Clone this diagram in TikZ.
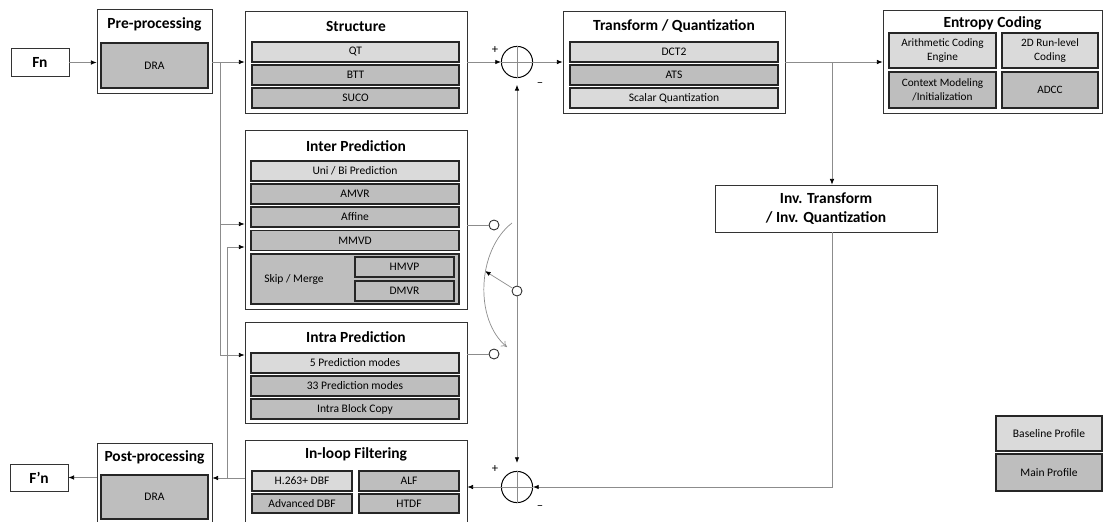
\documentclass[tikz,border=0pt]{standalone}
\usepackage{fontspec}
\setmainfont{Carlito}
\usetikzlibrary{arrows.meta}
\definecolor{litefill}{HTML}{DADADA}
\definecolor{darkfill}{HTML}{BEBEBE}
\definecolor{wirecol}{HTML}{8C8C8C}
\begin{document}
\begin{tikzpicture}[x=0.025cm,y=-0.025cm,
  sz/.style 2 args={minimum width=#1*0.025cm,minimum height=#2*0.025cm},
  outerbox/.style={draw=black!80,line width=0.6pt,fill=white,inner sep=0pt},
  toolbox/.style={draw=black!85,line width=0.9pt,inner sep=0pt,align=center,font=\fontsize{8.2}{10}\selectfont},
  litebox/.style={toolbox,fill=litefill},
  darkbox/.style={toolbox,fill=darkfill},
  ttl/.style={font=\bfseries\fontsize{11}{13}\selectfont},
  wire/.style={draw=wirecol,line width=0.5pt},
  arr/.style={wire,-{Latex[length=4pt,width=3.2pt,color=black]}},
  tapnode/.style={circle,draw=black!85,line width=0.6pt,fill=white,minimum size=0.25cm,inner sep=0pt},
  sumnode/.style={circle,draw=black,line width=0.7pt,fill=white,minimum size=0.78cm,inner sep=0pt},
  sgn/.style={font=\fontsize{9}{10}\selectfont}]
\useasboundingbox (0,0) rectangle (1104,521);

\node[outerbox,sz={58}{28},ttl] (fn) at (40,62.5) {Fn};
\node[outerbox,sz={115}{84}] (pre) at (154.5,51) {};
\node[ttl] at (154.5,24) {Pre-processing};
\node[darkbox,sz={107}{45}] (preDRA) at (154.5,65.5) {DRA};

\node[outerbox,sz={222}{102}] (str) at (356,62) {};
\node[ttl] at (356,26) {Structure};
\node[litebox,sz={207}{20}] (qt) at (355.5,52) {QT};
\node[darkbox,sz={207}{20}] (btt) at (355.5,75) {BTT};
\node[darkbox,sz={207}{20}] (suco) at (355.5,98) {SUCO};

\node[outerbox,sz={222}{179}] (inter) at (356,219.5) {};
\node[ttl] at (356,146) {Inter Prediction};
\node[litebox,sz={208}{20}] (uni) at (355,171) {Uni / Bi Prediction};
\node[darkbox,sz={208}{20}] (amvr) at (355,194) {AMVR};
\node[darkbox,sz={208}{20}] (affine) at (355,217) {Affine};
\node[darkbox,sz={208}{20}] (mmvd) at (355,240.5) {MMVD};
\node[darkbox,sz={208}{50}] (skip) at (355,279) {};
\node[font=\fontsize{8.2}{10}\selectfont] at (294,279) {Skip / Merge};
\node[darkbox,sz={99}{20}] (hmvp) at (404.5,267) {HMVP};
\node[darkbox,sz={99}{20}] (dmvr) at (404.5,291) {DMVR};

\node[outerbox,sz={222}{101}] (intra) at (356,372.5) {};
\node[ttl] at (356,337) {Intra Prediction};
\node[litebox,sz={208}{20}] (pm5) at (355,363) {5 Prediction modes};
\node[darkbox,sz={208}{20}] (pm33) at (355,386) {33 Prediction modes};
\node[darkbox,sz={208}{20}] (ibc) at (355,409) {Intra Block Copy};

\node[outerbox,sz={222}{95}] (loop) at (356,487.5) {};
\node[ttl] at (356,454) {In-loop Filtering};
\node[litebox,sz={100}{20}] (dbf) at (302,481) {H.263+ DBF};
\node[darkbox,sz={100}{20}] (alf) at (409,481) {ALF};
\node[darkbox,sz={100}{19}] (adbf) at (302,503.5) {Advanced DBF};
\node[darkbox,sz={100}{19}] (htdf) at (409,503.5) {HTDF};

\node[outerbox,sz={115}{92}] (post) at (154.5,489) {};
\node[ttl] at (154.5,457) {Post-processing};
\node[darkbox,sz={107}{44}] (postDRA) at (154.5,497) {DRA};
\node[outerbox,sz={58}{27},ttl] (fno) at (39,477.5) {F’n};

\node[outerbox,sz={222}{102}] (tq) at (674,62) {};
\node[ttl] at (674,26) {Transform / Quantization};
\node[litebox,sz={208}{20}] (dct) at (674,52) {DCT2};
\node[darkbox,sz={208}{20}] (ats) at (674,75) {ATS};
\node[litebox,sz={208}{20}] (sq) at (674,98) {Scalar Quantization};

\node[outerbox,sz={219}{103}] (ec) at (992.5,61.5) {};
\node[ttl] at (992.5,23) {Entropy Coding};
\node[litebox,sz={107}{35},font=\fontsize{8}{10}\selectfont] (ace) at (942.5,50.5) {Arithmetic Coding\\Engine};
\node[litebox,sz={96}{35},font=\fontsize{8}{10}\selectfont] (rlc) at (1050,50.5) {2D Run-level\\Coding};
\node[darkbox,sz={107}{36},font=\fontsize{8}{10}\selectfont] (ctx) at (942.5,90) {Context Modeling\\/Initialization};
\node[darkbox,sz={96}{36},font=\fontsize{8}{10}\selectfont] (adcc) at (1050,90) {ADCC};

\node[outerbox,sz={222}{47},ttl,align=center] (inv) at (826,208.5) {Inv. Transform\\/ Inv. Quantization};

\node[litebox,sz={106}{35}] (lgb) at (1049,433.5) {Baseline Profile};
\node[darkbox,sz={106}{37}] (lgm) at (1049,472.5) {Main Profile};

\node[sumnode] (sa) at (517,62) {};
\node[sumnode] (sb) at (517,487) {};
\draw[wire] (sa.north) -- (sa.south) (sa.west) -- (sa.east);
\draw[wire] (sb.north) -- (sb.south) (sb.west) -- (sb.east);
\node[tapnode] (ta) at (494,225) {};
\node[tapnode] (tb) at (494,354) {};
\node[tapnode] (sw) at (517,291) {};

\node[sgn] at (495,50) {+};
\node[sgn] at (540,85) {\textendash};
\node[sgn] at (495,469) {+};
\node[sgn] at (540,508) {\textendash};

\coordinate (b1) at (220,62);
\coordinate (b2) at (227,478);
\coordinate (b3) at (832,62);
\coordinate (yin1) at (0,224);
\coordinate (yin2) at (0,247);
\coordinate (yin3) at (0,355);
\coordinate (yout) at (0,478);
\coordinate (swa) at (512,223);
\coordinate (swb) at (507,347);
\coordinate (swm) at (485,271);

\draw[arr] (fn.east) -- (pre.west |- fn.east);
\draw[arr] (pre.east |- str.west) -- (str.west);
\draw[arr] (b1) |- (inter.west |- yin1);
\draw[arr] (b1) |- (intra.west |- yin3);
\draw[arr] (loop.west |- yout) -- (post.east |- yout);
\draw[arr] (b2) |- (inter.west |- yin2);
\draw[arr] (post.west |- fno.east) -- (fno.east);
\draw[arr] (str.east) -- (sa.west);
\draw[arr] (sa.east) -- (tq.west);
\draw[arr] (tq.east) -- (ec.west |- tq.east);
\draw[arr] (b3) -- (inv.north -| b3);
\draw[arr] (inv.south -| b3) |- (sb.east);
\draw[arr] (sb.west) -- (loop.east |- sb.west);
\draw[wire] (inter.east |- ta) -- (ta);
\draw[wire] (intra.east |- tb) -- (tb);
\draw[arr,shorten >=0.17cm] (sw) -- (sa.south);
\draw[arr,shorten >=0.2cm] (sw) -- (sb.north);
\draw[arr] (sw) -- (swm);
\draw[wire,-{To[length=4pt,width=5pt]}] (swa) .. controls (477,250) and (474,320) .. (swb);
\end{tikzpicture}
\end{document}
